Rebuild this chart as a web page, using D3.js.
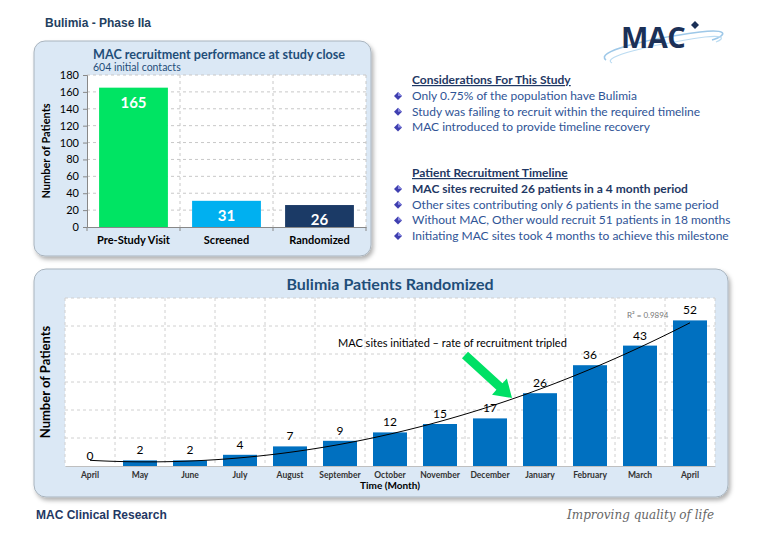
<!DOCTYPE html>
<html>
<head>
<meta charset="utf-8">
<script src="https://cdn.jsdelivr.net/npm/d3@7"></script>
<style>
  html, body { margin: 0; padding: 0; background: #ffffff; }
  svg { display: block; }
</style>
</head>
<body>
<svg id="chart" width="768" height="536"></svg>
<script>
// ---------------- DATA ----------------
const stageCategories = ["Pre-Study Visit", "Screened", "Randomized"];
const stageValues = [165, 31, 26];
const stageColors = ["#00e463", "#00b0f0", "#1b3a66"];
const stageTicks = [0, 20, 40, 60, 80, 100, 120, 140, 160, 180];

const months = ["April", "May", "June", "July", "August", "September", "October",
  "November", "December", "January", "February", "March", "April "];
const randomized = [0, 2, 2, 4, 7, 9, 12, 15, 17, 26, 36, 43, 52];
const monthTicks = [0, 10, 20, 30, 40, 50, 60];

const considerations = [
  "Only 0.75% of the population have Bulimia",
  "Study was failing to recruit within the required timeline",
  "MAC introduced to provide timeline recovery"
];
const timeline = [
  "MAC sites recruited 26 patients in a 4 month period",
  "Other sites contributing only 6 patients in the same period",
  "Without MAC, Other would recruit 51 patients in 18 months",
  "Initiating MAC sites took 4 months to achieve this milestone"
];

const FONT = "Lato, 'Open Sans', sans-serif";
const svg = d3.select("#chart");

// shadow filter
const defs = svg.append("defs");
const f = defs.append("filter").attr("id", "shadow").attr("x", "-5%").attr("y", "-5%").attr("width", "115%").attr("height", "120%");
f.append("feDropShadow").attr("dx", 2).attr("dy", 3).attr("stdDeviation", 2).attr("flood-color", "#000").attr("flood-opacity", 0.3);

// ---------------- HEADER ----------------
svg.append("text").attr("x", 45).attr("y", 27).text("Bulimia - Phase IIa")
  .attr("font-family", "'Liberation Sans', Arial, sans-serif").attr("font-weight", "bold").attr("font-size", 12).attr("fill", "#243f60");

// Logo
const logo = svg.append("g");
logo.append("path")
  .attr("d", "M606,60 C595,52 640,40 700,32 C725,29 730,34 712,40")
  .attr("fill", "none").attr("stroke", "#9ec8e8").attr("stroke-width", 1.6);
logo.append("path")
  .attr("d", "M612,63 C600,57 650,45 705,37 C722,35 726,38 716,42")
  .attr("fill", "none").attr("stroke", "#bcdcf2").attr("stroke-width", 1.2);
logo.append("text").attr("x", 621).attr("y", 48).text("MAC")
  .attr("font-family", "'Open Sans', Lato, sans-serif").attr("font-weight", "bold").attr("font-size", 29)
  .attr("fill", "#1b3057").attr("letter-spacing", -0.5);
logo.append("path").attr("d", "M695,21 L699,25 L695,29 L691,25 Z").attr("fill", "#1b3057");

// ---------------- TOP PANEL ----------------
svg.append("rect").attr("x", 34).attr("y", 41).attr("width", 337).attr("height", 215).attr("rx", 11)
  .attr("fill", "#dbe8f5").attr("stroke", "#a9b4be").attr("stroke-width", 1).attr("filter", "url(#shadow)");

svg.append("text").attr("x", 93).attr("y", 59).text("MAC recruitment performance at study close")
  .attr("font-family", FONT).attr("font-weight", "bold").attr("font-size", 12.6).attr("fill", "#1f4e79");
svg.append("text").attr("x", 93).attr("y", 71).text("604 initial contacts")
  .attr("font-family", FONT).attr("font-size", 10.5).attr("fill", "#1f4e79");

const tL = 87, tR = 366, tT = 75, tB = 227;
const xTop = d3.scaleBand().domain(stageCategories).range([tL, tR]).paddingInner(0.26).paddingOuter(0.13);
const yTop = d3.scaleLinear().domain([0, 180]).range([tB, tT]);

svg.append("rect").attr("x", tL).attr("y", tT).attr("width", tR - tL).attr("height", tB - tT).attr("fill", "#ffffff");

// grid
svg.append("g").selectAll("line").data(stageTicks.filter(d => d > 0)).join("line")
  .attr("x1", tL).attr("x2", tR).attr("y1", d => yTop(d)).attr("y2", d => yTop(d))
  .attr("stroke", "#c8c8c8").attr("stroke-dasharray", "3,3");
const topBounds = stageCategories.slice(1).map(c => xTop(c) - xTop.step() * xTop.paddingInner() / 2);
svg.append("g").selectAll("line").data(topBounds.concat([tR])).join("line")
  .attr("x1", d => d).attr("x2", d => d).attr("y1", tT).attr("y2", tB)
  .attr("stroke", "#c8c8c8").attr("stroke-dasharray", "3,3");

// bars
svg.append("g").selectAll("rect").data(stageValues).join("rect")
  .attr("x", (d, i) => xTop(stageCategories[i])).attr("width", xTop.bandwidth())
  .attr("y", d => yTop(d)).attr("height", d => tB - yTop(d))
  .attr("fill", (d, i) => stageColors[i]);
svg.append("g").selectAll("text").data(stageValues).join("text")
  .attr("x", (d, i) => xTop(stageCategories[i]) + xTop.bandwidth() / 2)
  .attr("y", d => yTop(d) + 20)
  .attr("text-anchor", "middle").text(d => d)
  .attr("font-family", FONT).attr("font-weight", "bold").attr("font-size", 15).attr("fill", "#ffffff");

// axes
const yAxT = svg.append("g").attr("transform", `translate(${tL},0)`)
  .call(d3.axisLeft(yTop).tickValues(stageTicks).tickSize(4).tickPadding(4));
yAxT.select(".domain").attr("stroke", "#888");
yAxT.selectAll("line").attr("stroke", "#888");
yAxT.selectAll("text").attr("font-family", FONT).attr("font-size", 11).attr("fill", "#000");

const xAxT = svg.append("g").attr("transform", `translate(0,${tB})`)
  .call(d3.axisBottom(xTop).tickSize(0).tickPadding(9));
xAxT.select(".domain").attr("stroke", "#888");
xAxT.selectAll("text").attr("font-family", FONT).attr("font-weight", "bold").attr("font-size", 11).attr("fill", "#000");
svg.append("g").selectAll("line").data([tL].concat(topBounds, [tR])).join("line")
  .attr("x1", d => d).attr("x2", d => d).attr("y1", tB).attr("y2", tB + 4).attr("stroke", "#888");

svg.append("text").attr("transform", `translate(50,${(tT + tB) / 2}) rotate(-90)`)
  .attr("text-anchor", "middle").text("Number of Patients")
  .attr("font-family", FONT).attr("font-weight", "bold").attr("font-size", 11).attr("fill", "#000");

// ---------------- RIGHT TEXT ----------------
function diamond(x, y) {
  const g = svg.append("g");
  g.append("path").attr("d", `M${x},${y - 4} L${x + 4},${y} L${x},${y + 4} L${x - 4},${y} Z`).attr("fill", "#3f3fb0");
  g.append("path").attr("d", `M${x},${y - 4} L${x + 4},${y} L${x},${y} Z`).attr("fill", "#8a8ae0");
}
function section(title, items, y0, boldFirst) {
  svg.append("text").attr("x", 412).attr("y", y0).text(title)
    .attr("font-family", FONT).attr("font-weight", "bold").attr("font-size", 12)
    .attr("fill", "#1f3864").attr("text-decoration", "underline");
  items.forEach((t, i) => {
    const y = y0 + 16 + i * 15.7;
    diamond(398, y - 4);
    svg.append("text").attr("x", 412).attr("y", y).text(t)
      .attr("font-family", FONT).attr("font-size", 12)
      .attr("font-weight", boldFirst && i === 0 ? "bold" : "normal")
      .attr("fill", boldFirst && i === 0 ? "#1f3864" : "#2f5496");
  });
}
section("Considerations For This Study", considerations, 84, false);
section("Patient Recruitment Timeline", timeline, 177, true);

// ---------------- BOTTOM PANEL ----------------
svg.append("rect").attr("x", 34).attr("y", 269).attr("width", 694).attr("height", 228).attr("rx", 12)
  .attr("fill", "#dbe8f5").attr("stroke", "#a9b4be").attr("stroke-width", 1).attr("filter", "url(#shadow)");

svg.append("text").attr("x", 390).attr("y", 290).attr("text-anchor", "middle").text("Bulimia Patients Randomized")
  .attr("font-family", FONT).attr("font-weight", "bold").attr("font-size", 16).attr("fill", "#1f4e79");

const bL = 65, bR = 715, bT = 298, bB = 466;
const xB = d3.scaleBand().domain(months).range([bL, bR]).paddingInner(0.32).paddingOuter(0.16);
const yB = d3.scaleLinear().domain([0, 60]).range([bB, bT]);

svg.append("rect").attr("x", bL).attr("y", bT).attr("width", bR - bL).attr("height", bB - bT).attr("fill", "#ffffff");
svg.append("g").selectAll("line").data(monthTicks.filter(d => d > 0)).join("line")
  .attr("x1", bL).attr("x2", bR).attr("y1", d => yB(d)).attr("y2", d => yB(d))
  .attr("stroke", "#d0d0d0").attr("stroke-dasharray", "3,3");
const bBounds = months.map(m => xB(m) - xB.step() * xB.paddingInner() / 2).concat([bR]);
svg.append("g").selectAll("line").data(bBounds).join("line")
  .attr("x1", d => d).attr("x2", d => d).attr("y1", bT).attr("y2", bB)
  .attr("stroke", "#d0d0d0").attr("stroke-dasharray", "3,3");

svg.append("g").selectAll("rect").data(randomized).join("rect")
  .attr("x", (d, i) => xB(months[i])).attr("width", xB.bandwidth())
  .attr("y", d => yB(d)).attr("height", d => bB - yB(d))
  .attr("fill", "#0070c0");

svg.append("g").selectAll("text").data(randomized).join("text")
  .attr("x", (d, i) => xB(months[i]) + xB.bandwidth() / 2)
  .attr("y", d => yB(d) - 6)
  .attr("text-anchor", "middle").text(d => d)
  .attr("font-family", FONT).attr("font-size", 12).attr("fill", "#000");

const xAxB = svg.append("g").attr("transform", `translate(0,${bB})`)
  .call(d3.axisBottom(xB).tickSize(0).tickPadding(6));
xAxB.select(".domain").attr("stroke", "#bfbfbf");
xAxB.selectAll("text").attr("font-family", FONT).attr("font-weight", "bold").attr("font-size", 8.5).attr("fill", "#333");

svg.append("text").attr("x", 390).attr("y", 489).attr("text-anchor", "middle").text("Time (Month)")
  .attr("font-family", FONT).attr("font-weight", "bold").attr("font-size", 10).attr("fill", "#000");
svg.append("text").attr("transform", `translate(50,${(bT + bB) / 2}) rotate(-90)`)
  .attr("text-anchor", "middle").text("Number of Patients")
  .attr("font-family", FONT).attr("font-weight", "bold").attr("font-size", 13).attr("fill", "#000");

// polynomial (order 2) trendline computed by least squares from the data
(function () {
  const n = randomized.length;
  let s = [0, 0, 0, 0, 0], t = [0, 0, 0];
  randomized.forEach((y, x) => {
    for (let k = 0; k < 5; k++) s[k] += Math.pow(x, k);
    for (let k = 0; k < 3; k++) t[k] += y * Math.pow(x, k);
  });
  const A = [[s[0], s[1], s[2], t[0]], [s[1], s[2], s[3], t[1]], [s[2], s[3], s[4], t[2]]];
  for (let i = 0; i < 3; i++) {
    for (let j = i + 1; j < 3; j++) {
      const r = A[j][i] / A[i][i];
      for (let k = i; k < 4; k++) A[j][k] -= r * A[i][k];
    }
  }
  const c = [0, 0, 0];
  for (let i = 2; i >= 0; i--) {
    let v = A[i][3];
    for (let k = i + 1; k < 3; k++) v -= A[i][k] * c[k];
    c[i] = v / A[i][i];
  }
  const fit = x => c[0] + c[1] * x + c[2] * x * x;
  const xc = d3.scaleLinear().domain([0, n - 1])
    .range([xB(months[0]) + xB.bandwidth() / 2, xB(months[n - 1]) + xB.bandwidth() / 2]);
  const pts = d3.range(0, n - 1 + 1e-9, 0.1).map(x => [xc(x), yB(fit(x))]);
  svg.append("path").attr("d", d3.line()(pts)).attr("fill", "none").attr("stroke", "#000").attr("stroke-width", 1);
})();

svg.append("text").attr("x", 627).attr("y", 318).text("R² = 0.9894")
  .attr("font-family", FONT).attr("font-size", 8).attr("fill", "#777");

// annotation
svg.append("text").attr("x", 338).attr("y", 347).text("MAC sites initiated – rate of recruitment tripled")
  .attr("font-family", FONT).attr("font-size", 11).attr("fill", "#000");
// green arrow
(function () {
  const x0 = 465, y0 = 355, x1 = 512, y1 = 398;
  const ang = Math.atan2(y1 - y0, x1 - x0);
  const len = Math.hypot(x1 - x0, y1 - y0);
  const g = svg.append("g").attr("transform", `translate(${x0},${y0}) rotate(${ang * 180 / Math.PI})`);
  const hw = 4.5, hl = 17, hh = 11;
  g.append("path")
    .attr("d", `M0,${-hw} L${len - hl},${-hw} L${len - hl},${-hh} L${len},0 L${len - hl},${hh} L${len - hl},${hw} L0,${hw} Z`)
    .attr("fill", "#00e065");
})();

// ---------------- FOOTER ----------------
svg.append("text").attr("x", 36).attr("y", 519).text("MAC Clinical Research")
  .attr("font-family", "'Liberation Sans Narrow', 'Liberation Sans', sans-serif").attr("font-weight", "bold")
  .attr("font-size", 12).attr("fill", "#1f3864");
svg.append("text").attr("x", 714).attr("y", 519).attr("text-anchor", "end").text("Improving quality of life")
  .attr("font-family", "'DejaVu Serif', serif").attr("font-style", "italic")
  .attr("font-size", 12).attr("fill", "#666");
</script>
</body>
</html>
